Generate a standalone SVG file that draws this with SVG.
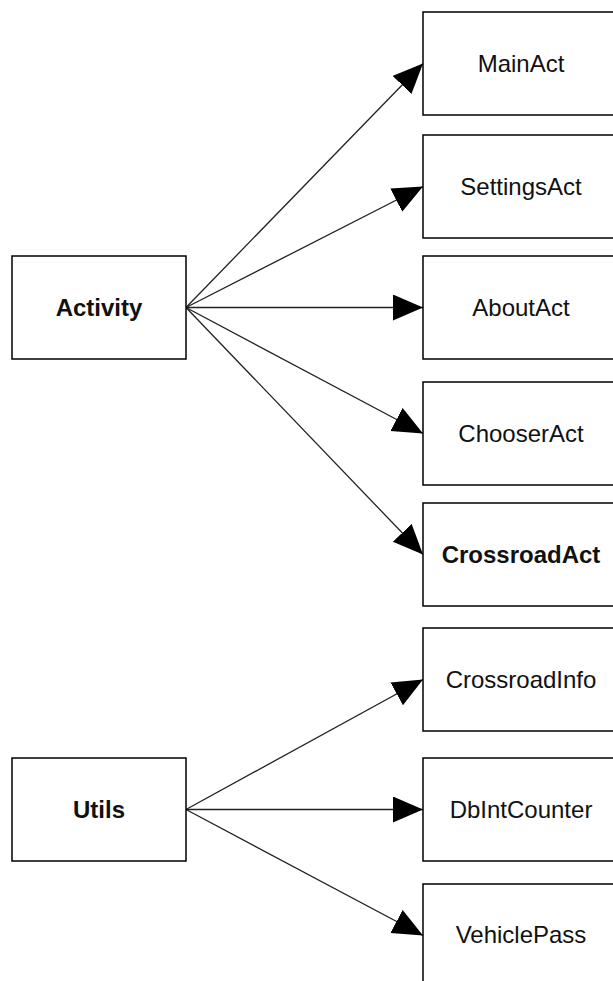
<svg xmlns="http://www.w3.org/2000/svg" width="613" height="981" viewBox="0 0 613 981">
<defs>
<style>
.box{fill:#fff;stroke:#000;stroke-width:1.5}
.lbl{font-family:"Liberation Sans",Arial,sans-serif;font-size:24px;fill:#111;text-anchor:middle}
.b{font-weight:bold}
.edge{stroke:#222;stroke-width:1.3;fill:none;marker-end:url(#arr)}
</style>
<marker id="arr" markerUnits="userSpaceOnUse" markerWidth="31" markerHeight="27" refX="30" refY="13" orient="auto" viewBox="0 0 31 27">
<path d="M0,0 L30,13 L0,26 z" fill="#000"/>
</marker>
</defs>
<rect width="613" height="981" fill="#fff"/>
<g id="connectors">
<line class="edge" x1="186" y1="307.5" x2="423" y2="63.5"/>
<line class="edge" x1="186" y1="307.5" x2="423" y2="186.5"/>
<line class="edge" x1="186" y1="307.5" x2="423" y2="307.5"/>
<line class="edge" x1="186" y1="307.5" x2="423" y2="433.5"/>
<line class="edge" x1="186" y1="307.5" x2="423" y2="554.5"/>
<line class="edge" x1="186" y1="809.5" x2="423" y2="679.5"/>
<line class="edge" x1="186" y1="809.5" x2="423" y2="809.5"/>
<line class="edge" x1="186" y1="809.5" x2="423" y2="935.5"/>
</g>
<g id="activity"><rect class="box" x="12" y="256" width="174" height="103"/><text class="lbl b" x="99" y="316">Activity</text></g>
<g id="utils"><rect class="box" x="12" y="758" width="174" height="103"/><text class="lbl b" x="99" y="818">Utils</text></g>
<g id="mainact"><rect class="box" x="423" y="12" width="196" height="103"/><text class="lbl" x="521" y="72">MainAct</text></g>
<g id="settingsact"><rect class="box" x="423" y="135" width="196" height="103"/><text class="lbl" x="521" y="195">SettingsAct</text></g>
<g id="aboutact"><rect class="box" x="423" y="256" width="196" height="103"/><text class="lbl" x="521" y="316">AboutAct</text></g>
<g id="chooseract"><rect class="box" x="423" y="382" width="196" height="103"/><text class="lbl" x="521" y="442">ChooserAct</text></g>
<g id="crossroadact"><rect class="box" x="423" y="503" width="196" height="103"/><text class="lbl b" x="521" y="563">CrossroadAct</text></g>
<g id="crossroadinfo"><rect class="box" x="423" y="628" width="196" height="103"/><text class="lbl" x="521" y="688">CrossroadInfo</text></g>
<g id="dbintcounter"><rect class="box" x="423" y="758" width="196" height="103"/><text class="lbl" x="521" y="818">DbIntCounter</text></g>
<g id="vehiclepass"><rect class="box" x="423" y="884" width="196" height="103"/><text class="lbl" x="521" y="943">VehiclePass</text></g>
</svg>
